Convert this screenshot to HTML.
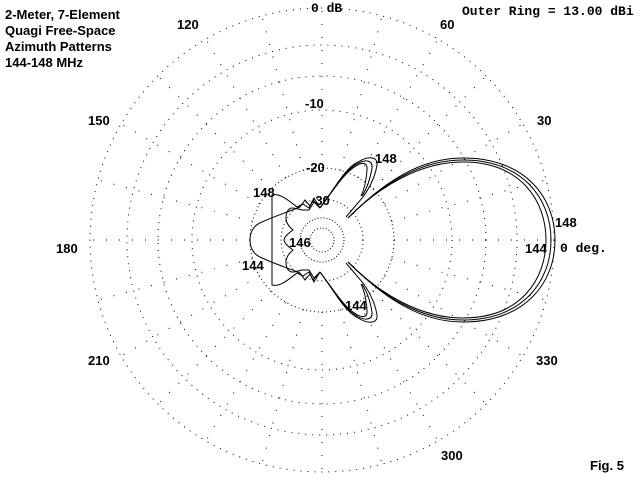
<!DOCTYPE html>
<html><head><style>
html,body{margin:0;padding:0;background:#fff;}
svg{display:block}
.t{font-family:"Liberation Sans",sans-serif;font-weight:bold;font-size:13px;fill:#000}
.m{font-family:"Liberation Mono",monospace;font-weight:bold;font-size:13px;fill:#000}
</style></head><body>
<svg width="640" height="480" viewBox="0 0 640 480" xmlns="http://www.w3.org/2000/svg">
<rect width="640" height="480" fill="#fff"/>
<g fill="none" stroke="#000" stroke-width="1" stroke-dasharray="1 6">
<circle cx="322" cy="240" r="232"/>
<circle cx="322" cy="240" r="195"/>
<circle cx="322" cy="240" r="164"/>
<circle cx="322" cy="240" r="130"/>
<circle cx="322" cy="240" r="72" stroke-dasharray="1 3"/>
<circle cx="322" cy="240" r="41" stroke-dasharray="1 3"/>
<circle cx="322" cy="240" r="22" stroke-dasharray="1 2"/>
<circle cx="322" cy="240" r="12" stroke-dasharray="1 2"/>
</g>
<g id="radh" stroke="#000" stroke-width="1" stroke-dasharray="1 12">
<line x1="394" y1="240" x2="554" y2="240"/>
<line x1="391.5" y1="221.4" x2="546.1" y2="180"/>
<line x1="384.4" y1="204" x2="522.9" y2="124"/>
<line x1="372.9" y1="189.1" x2="486" y2="76"/>
<line x1="358" y1="177.6" x2="438" y2="39.1"/>
<line x1="340.6" y1="170.5" x2="382" y2="15.9"/>
<line x1="322" y1="168" x2="322" y2="8"/>
<line x1="303.4" y1="170.5" x2="262" y2="15.9"/>
<line x1="286" y1="177.6" x2="206" y2="39.1"/>
<line x1="271.1" y1="189.1" x2="158" y2="76"/>
<line x1="259.6" y1="204" x2="121.1" y2="124"/>
<line x1="252.5" y1="221.4" x2="97.9" y2="180"/>
<line x1="250" y1="240" x2="90" y2="240"/>
</g>
<use href="#radh" transform="translate(0,480) scale(1,-1)"/>
<g id="half" fill="none" stroke="#000" stroke-width="1">
<!-- main lobe three curves -->
<path d="M348,218 C380,186 420,162 463,162 C520,162 546,200 546,240"/>
<path d="M348,218 C382,184 420,160 463,160 C522,160 551,198 551,240"/>
<path d="M348,218 C384,182 420,158 463,158 C524,158 555,196 555,240"/>
<!-- side lobe -->
<path d="M320,208 C335,188 345,168 358,162 C368,156 378,156 377,165 C375,178 368,190 363,197 L346,217"/>
<path d="M320,208 C335,188 345,170 357,164 C365,159 373,160 372,168 C370,180 366,190 362,196"/>
<path d="M320,208 C335,188 345,172 356,166 C362,162 368,162 367,170 C366,182 364,190 361,196"/>
<!-- back structures -->
<path d="M320,208 L314,198 L310,206 L305,200 L300,207 C288,212 275,216 262,222 C252,226 250,234 250,240"/>
<path d="M320,208 L313,200 L309,208 L303,204 L297,207 C288,200 280,193 272,195 L272,240"/>
<path d="M320,208 L314,202 L309,210 L302,210 C294,208 290,206 287,212 C284,220 288,226 293,230 C287,234 284,238 284,240"/>
</g>
<use href="#half" transform="translate(0,480) scale(1,-1)"/>
<g class="t">
<text x="5" y="19">2-Meter, 7-Element</text>
<text x="5" y="35">Quagi Free-Space</text>
<text x="5" y="51">Azimuth Patterns</text>
<text x="5" y="67">144-148 MHz</text>
<text x="177" y="29">120</text>
<text x="440" y="29">60</text>
<text x="88" y="125">150</text>
<text x="537" y="125">30</text>
<text x="56" y="253">180</text>
<text x="88" y="365">210</text>
<text x="536" y="365">330</text>
<text x="441" y="460">300</text>
<text x="590" y="470">Fig. 5</text>
<text x="305" y="108">-10</text>
<text x="306" y="172">-20</text>
<text x="311" y="205">-30</text>
<text x="375" y="163">148</text>
<text x="253" y="197">148</text>
<text x="555" y="227">148</text>
<text x="289" y="247">146</text>
<text x="242" y="270">144</text>
<text x="345" y="310">144</text>
<text x="525" y="253">144</text>
</g>
<g class="m">
<text x="311" y="12">0 dB</text>
<text x="462" y="15">Outer Ring = 13.00 dBi</text>
<text x="560" y="252">0 deg.</text>
</g>
</svg>
</body></html>
